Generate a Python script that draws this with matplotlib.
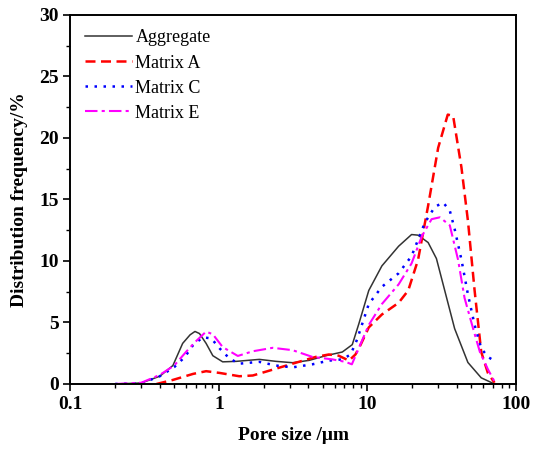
import matplotlib.pyplot as plt
import numpy as np
from matplotlib.ticker import MultipleLocator, LogLocator, NullFormatter, FixedFormatter, FixedLocator

plt.rcParams['font.family'] = ['Liberation Serif', 'DejaVu Serif']

# pore size (um) and distribution frequency (%)
agg_x = [0.2, 0.30, 0.40, 0.49, 0.57, 0.64, 0.69, 0.74, 0.82, 0.91, 1.06, 1.31, 1.87,
         2.42, 3.13, 4.05, 5.24, 6.77, 7.9, 8.75, 10.2, 12.5, 16.2, 19.8, 21.9, 25.6,
         29.1, 33.1, 38.6, 47.4, 58.3, 71.6]
agg_y = [0, 0.08, 0.63, 1.5, 3.3, 4.0, 4.27, 4.1, 3.3, 2.3, 1.8, 1.84, 2.0,
         1.84, 1.73, 1.92, 2.3, 2.6, 3.2, 4.9, 7.6, 9.6, 11.2, 12.15, 12.1, 11.5,
         10.2, 7.6, 4.5, 1.75, 0.5, 0]

a_x = [0.38, 0.49, 0.67, 0.82, 1.01, 1.37, 1.69, 2.07, 3.13, 4.48, 5.5, 6.4, 7.5,
       8.3, 9.0, 10.2, 12.5, 16.2, 18.8, 21.9, 25.6, 29.9, 34.7, 37.7, 42.9, 47.5,
       52.6, 58.3, 64.6, 71.6]
a_y = [0, 0.33, 0.82, 1.04, 0.9, 0.63, 0.69, 1.0, 1.65, 2.2, 2.4, 2.3, 1.9,
       2.4, 3.2, 4.6, 5.65, 6.6, 7.6, 10.1, 14.5, 19.2, 21.9, 21.8, 17.6, 13.2,
       7.6, 2.6, 0.9, 0.1]

c_x = [0.2, 0.30, 0.40, 0.50, 0.59, 0.67, 0.78, 0.89, 1.01, 1.18, 1.37, 1.87, 2.42,
       3.13, 4.26, 5.5, 6.77, 7.7, 8.5, 10.2, 12.5, 16.2, 19.8, 24.3, 28.4, 32.3,
       35.8, 38.6, 42.9, 47.4, 52.6, 58.3, 64.6, 73.5]
c_y = [0, 0.05, 0.63, 1.37, 2.2, 3.16, 3.8, 3.7, 2.9, 2.06, 1.65, 1.8, 1.5,
       1.35, 1.6, 1.9, 2.0, 2.4, 3.6, 6.5, 7.9, 9.0, 10.4, 13.1, 14.4, 14.75,
       14.1, 12.6, 10.1, 7.3, 4.8, 2.9, 2.2, 1.8]

e_x = [0.2, 0.30, 0.40, 0.50, 0.60, 0.69, 0.82, 0.91, 1.06, 1.34, 1.69, 2.3, 3.13,
       4.26, 5.8, 7.1, 7.85, 8.7, 10.2, 12.5, 16.2, 19.8, 23.2, 27.0, 30.7, 35.8,
       40.7, 45.0, 51.4, 57.1, 64.6, 71.6]
e_y = [0, 0.1, 0.74, 1.5, 2.6, 3.4, 4.26, 4.04, 3.0, 2.28, 2.66, 2.94, 2.75,
       2.2, 2.0, 1.8, 1.6, 2.86, 4.8, 6.5, 8.1, 9.8, 12.0, 13.4, 13.55, 12.9,
       10.1, 7.0, 4.5, 2.6, 1.2, 0.2]

fig = plt.figure(figsize=(5.37, 4.5), dpi=100)
ax = fig.add_axes([0.131, 0.1467, 0.83, 0.82])

ax.plot(agg_x, agg_y, color='#333333', lw=1.1, label='Aggregate')
ax.plot(a_x, a_y, color='#ff0000', lw=1.8, ls=(0, (4, 2.2)), label='Matrix A')
ax.plot(c_x, c_y, color='#0000ff', lw=1.8, ls=(0, (1, 2.6)), label='Matrix C')
ax.plot(e_x, e_y, color='#ff00ff', lw=1.5, ls=(0, (6, 2, 1.5, 2)), label='Matrix E')

ax.set_xscale('log')
ax.set_xlim(0.1, 100)
ax.set_ylim(0, 30)
ax.xaxis.set_major_locator(FixedLocator([0.1, 1, 10, 100]))
ax.xaxis.set_major_formatter(FixedFormatter(['0.1', '1', '10', '100']))
ax.xaxis.set_minor_locator(LogLocator(base=10, subs=np.arange(2, 10)))
ax.xaxis.set_minor_formatter(NullFormatter())
ax.yaxis.set_major_locator(MultipleLocator(5))
ax.yaxis.set_minor_locator(MultipleLocator(2.5))

for s in ax.spines.values():
    s.set_linewidth(1.4)
ax.tick_params(which='major', direction='out', length=5, width=1.2, labelsize=14)
ax.tick_params(which='minor', direction='out', length=3, width=1.0)
for lab in ax.get_xticklabels() + ax.get_yticklabels():
    lab.set_fontweight('bold')

ax.set_xlabel('Pore size /μm', fontsize=14, fontweight='bold', labelpad=10)
ax.set_ylabel('Distribution frequency/%', fontsize=14, fontweight='bold', labelpad=8)

ax.legend(loc='upper left', frameon=False, fontsize=13, handlelength=2.6,
          handletextpad=0.2, labelspacing=0.45, borderaxespad=0.4)

fig.savefig('out.png', dpi=100)
